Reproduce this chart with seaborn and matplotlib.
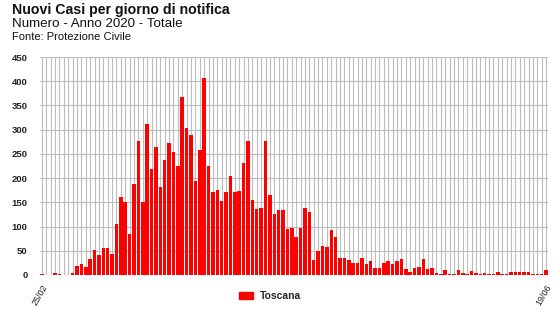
import matplotlib
matplotlib.use("Agg")
import matplotlib.pyplot as plt
import seaborn as sns
import pandas as pd
from matplotlib.patches import Patch

dates = pd.date_range("2020-02-25", "2020-06-19", freq="D").strftime("%d/%m").tolist()
values = [
    2, 0, 0, 5, 3, 1, 0, 5, 18, 22,
    17, 33, 51, 41, 55, 55, 43, 105, 160, 151,
    85, 187, 277, 151, 311, 219, 265, 182, 237, 273,
    253, 224, 367, 304, 289, 195, 259, 406, 225, 171,
    176, 153, 171, 205, 171, 174, 231, 277, 155, 136,
    139, 277, 166, 126, 134, 134, 95, 96, 78, 96,
    138, 131, 31, 50, 60, 58, 93, 79, 36, 36,
    30, 24, 24, 36, 23, 28, 14, 14, 25, 28,
    23, 29, 34, 12, 7, 14, 17, 34, 12, 14,
    5, 3, 10, 3, 2, 10, 4, 3, 8, 4,
    2, 5, 3, 2, 7, 2, 2, 7, 7, 7,
    6, 6, 2, 2, 2, 10,
]
region = "Toscana"
title = "Nuovi Casi per giorno di notifica"
subtitle = "Numero - Anno 2020 - Totale"
source = "Fonte: Protezione Civile"
yticks = list(range(0, 451, 50))

df = pd.DataFrame({"data": dates, "casi": values, "regione": region})

sns.set_theme(style="white")
plt.rcParams["font.family"] = ["Liberation Sans", "DejaVu Sans"]

fig = plt.figure(figsize=(5.6, 3.15), dpi=100)
ax = fig.add_axes([0.0714, 0.127, 0.9072, 0.692])

sns.barplot(data=df, x="data", y="casi", hue="regione",
            palette={region: "#ff0000"}, saturation=1, width=0.8,
            linewidth=0, ax=ax, legend=False, zorder=3)

ax.set_xlim(-0.45, len(values) - 0.55)
ax.set_ylim(0, 450)
ax.set_yticks(yticks)
ax.set_yticklabels([str(v) for v in yticks], fontsize=6.8, fontweight="bold", color="#222222")
ax.set_xticks(range(len(values)))
ax.set_xticklabels([d if i in (0, len(values) - 1) else "" for i, d in enumerate(dates)],
                   rotation=60, ha="right", va="top", fontsize=6.5, color="#222222",
                   rotation_mode="anchor")
ax.tick_params(axis="both", length=0)
ax.tick_params(axis="y", pad=9)
ax.tick_params(axis="x", pad=6)
ax.set_xlabel("")
ax.set_ylabel("")
ax.grid(True, axis="both", color="#bcbcbc", linewidth=0.8, zorder=0)
ax.set_axisbelow(True)
for s in ax.spines.values():
    s.set_visible(False)

fig.text(0.021, 0.99, title, fontsize=10.2, fontweight="bold", ha="left", va="top", color="#111111")
fig.text(0.021, 0.942, subtitle, fontsize=9.6, ha="left", va="top", color="#111111")
fig.text(0.021, 0.9, source, fontsize=8, ha="left", va="top", color="#111111")

handle = Patch(facecolor="#ff0000", edgecolor="#ff0000", label=region)
fig.legend(handles=[handle], loc="center", bbox_to_anchor=(0.483, 0.06), frameon=False,
           handlelength=1.3, handleheight=0.6, handletextpad=0.7,
           prop={"weight": "bold", "size": 7.5})

fig.savefig("out.png", dpi=100)
